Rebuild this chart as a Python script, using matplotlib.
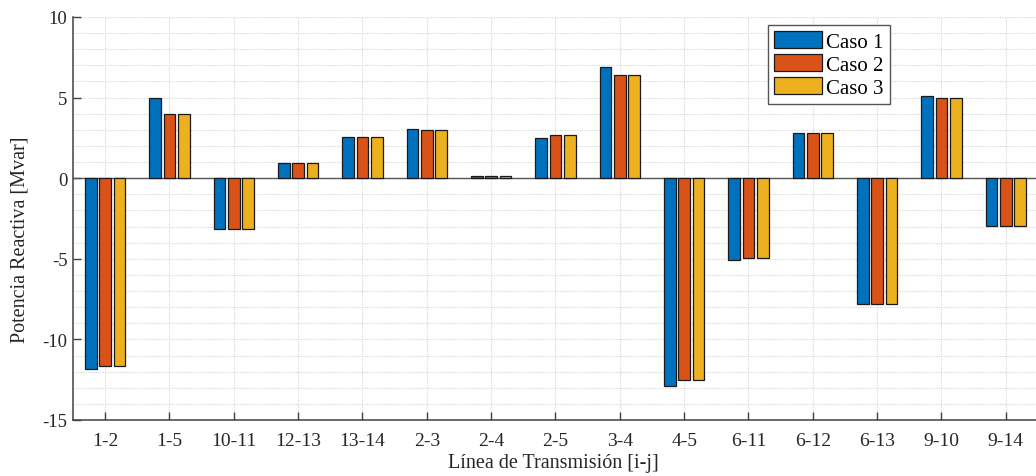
import matplotlib.pyplot as plt
import numpy as np

lineas = ['1-2', '1-5', '10-11', '12-13', '13-14', '2-3', '2-4', '2-5',
          '3-4', '4-5', '6-11', '6-12', '6-13', '9-10', '9-14']
caso1 = [-11.85, 4.98, -3.13, 0.93, 2.54, 3.04, 0.15, 2.52,
         6.87, -12.90, -5.09, 2.81, -7.82, 5.13, -2.96]
caso2 = [-11.62, 3.97, -3.13, 0.93, 2.54, 2.98, 0.15, 2.67,
         6.42, -12.50, -4.96, 2.81, -7.82, 5.00, -2.96]
caso3 = [-11.62, 3.97, -3.13, 0.93, 2.54, 2.98, 0.15, 2.67,
         6.42, -12.50, -4.96, 2.81, -7.82, 5.00, -2.96]
nombres = ['Caso 1', 'Caso 2', 'Caso 3']
colores = ['#0072BD', '#D95319', '#EDB120']

plt.rcParams['font.family'] = ['Liberation Serif', 'DejaVu Serif']
plt.rcParams['axes.unicode_minus'] = False

fig = plt.figure(figsize=(10.36, 4.77), dpi=100)
ax = fig.add_axes([73 / 1036, 1 - 421 / 477, 965 / 1036, 403 / 477])

x = np.arange(1, len(lineas) + 1)
offset = 0.222
width = 0.178
for i, (serie, nombre, color) in enumerate(zip([caso1, caso2, caso3], nombres, colores)):
    ax.bar(x + (i - 1) * offset, serie, width, color=color, edgecolor='#1a1a1a',
           linewidth=0.9, label=nombre, zorder=3)

ax.axhline(0, color='#555555', linewidth=1.0, zorder=2)

ax.set_xlim(0.5, 15.5)
ax.set_ylim(-15, 10)
ax.set_xticks(x)
ax.set_xticklabels(lineas)
ax.set_yticks([-15, -10, -5, 0, 5, 10])
ax.set_yticks(np.arange(-15, 11, 1), minor=True)

# rejilla punteada tipo MATLAB
ax.grid(True, which='both', axis='y', color='#d4d4d4', linestyle=(0, (1, 1.2)), linewidth=0.8, zorder=0)
ax.grid(True, which='major', axis='x', color='#d4d4d4', linestyle=(0, (1, 1.2)), linewidth=0.8, zorder=0)

ax.tick_params(axis='both', which='major', direction='in', length=6, width=1.0,
               color='#404040', labelcolor='#262626')
ax.tick_params(axis='y', which='minor', length=0)
ax.tick_params(axis='x', labelsize=14, pad=9)
ax.tick_params(axis='y', labelsize=13.5, pad=4)

for s in ['top', 'right']:
    ax.spines[s].set_visible(False)
for s in ['left', 'bottom']:
    ax.spines[s].set_color('#404040')
    ax.spines[s].set_linewidth(1.1)

fig.text(20 / 1036, 1 - 240 / 477, 'Potencia Reactiva [Mvar]', rotation=90,
         ha='center', va='center', fontsize=14.5, color='#262626')
fig.text(553 / 1036, 1 - 464 / 477, 'Línea de Transmisión [i-j]',
         ha='center', va='center', fontsize=14.5, color='#262626')

leg = ax.legend(loc='upper left', bbox_to_anchor=(768 / 1036, 1 - 26 / 477),
                bbox_transform=fig.transFigure, fontsize=15, frameon=True,
                fancybox=False, edgecolor='#555555', framealpha=1,
                handlelength=2.3, handleheight=0.85, handletextpad=0.2,
                labelspacing=0.12, borderpad=0.3, borderaxespad=0)
leg.get_frame().set_linewidth(1.0)

fig.savefig('out.png', dpi=100)
